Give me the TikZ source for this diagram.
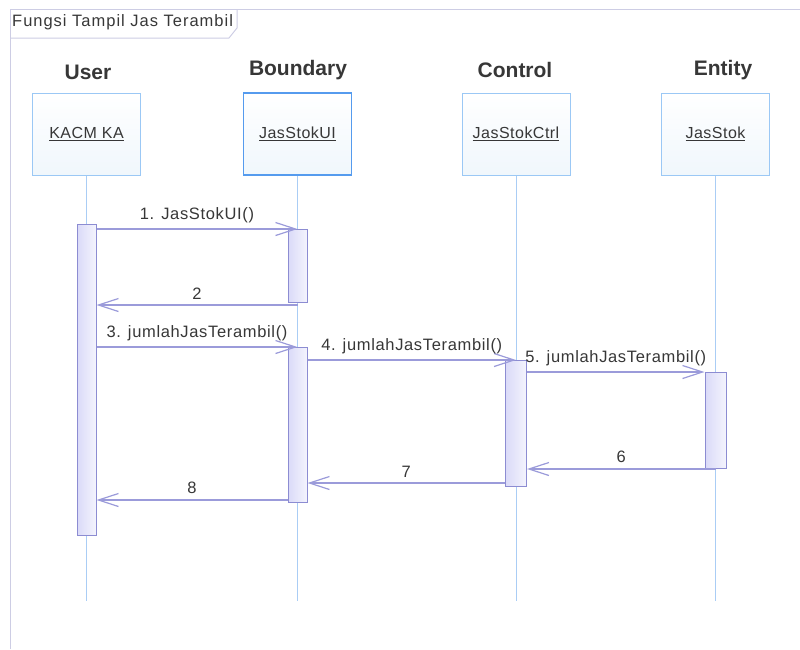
\documentclass[tikz,border=0pt]{standalone}
\usepackage{fontspec}
\setmainfont{Liberation Sans}
\usepackage{tikz}
\usetikzlibrary{arrows.meta}
\definecolor{framec}{RGB}{205,205,228}
\definecolor{lifec}{RGB}{170,205,245}
\definecolor{boxc}{RGB}{155,200,245}
\definecolor{bndc}{RGB}{85,155,238}
\definecolor{boxf}{RGB}{240,247,252}
\definecolor{actc}{RGB}{140,140,210}
\definecolor{actf}{RGB}{218,218,248}
\definecolor{msgc}{RGB}{155,155,218}
\definecolor{txtc}{RGB}{55,55,55}

\begin{document}
\begin{tikzpicture}[x=1pt,y=-1pt]
\tikzset{head/.style={font=\fontsize{21}{24}\selectfont\bfseries,text=txtc},
  obj/.style={draw=boxc,line width=1pt,top color=white,bottom color=boxf,minimum width=108pt,minimum height=82pt,text=txtc,
    font=\addfontfeature{LetterSpace=3}\fontsize{16}{18}\selectfont},
  act/.style={draw=actc,line width=1pt,left color=actf,right color=actf!30,minimum width=19pt,inner sep=0pt,anchor=north},
  life/.style={lifec,line width=1pt},
  msg/.style={msgc,line width=1.2pt,-{Straight Barb[length=20pt,width=13pt,line width=1.2pt]}},
  lab/.style={text=txtc,above=2pt,font=\addfontfeature{LetterSpace=4}\fontsize{16.5}{18}\selectfont}}
\useasboundingbox (0,0) rectangle (800,649);

% frame and title
\draw[framec,line width=1pt] (10,649) -- (10,9) -- (800,9);
\draw[framec,line width=1pt] (10,38) -- (229,38) -- (237,28) -- (237,9);
\node[anchor=west,inner sep=1pt,text=txtc,font=\addfontfeature{LetterSpace=6}\fontsize{16.5}{18}\selectfont] (title) at (11,22) {Fungsi Tampil Jas Terambil};

% lifelines
\node[head] (huser) at (88,72) {User};
\node[head] (hbnd) at (298,70) {Boundary};
\node[head] (hctrl) at (515,70) {Control};
\node[head] (hent) at (723,70) {Entity};
\node[obj] (user) at (86.5,134) {\underline{KACM KA}};
\node[obj,draw=bndc,line width=1.5pt] (bnd) at (297.5,134) {\underline{JasStokUI}};
\node[obj] (ctrl) at (516,134) {\underline{JasStokCtrl}};
\node[obj] (ent) at (715.5,134) {\underline{JasStok}};
\foreach \o in {user,bnd,ctrl,ent}
  \draw[life] (\o.south) -- ++(0,425);

% activations
\node[act,minimum height=311pt] (ua) at (86.5,224) {};
\node[act,minimum height=73pt] (b1) at (297.5,229) {};
\node[act,minimum height=155pt] (b2) at (297.5,347) {};
\node[act,minimum height=126pt,minimum width=21pt] (c1) at (516,360) {};
\node[act,minimum height=96pt,minimum width=21pt] (e1) at (715.5,372) {};

% messages
\coordinate (m2) at (297.5,305);
\coordinate (m6) at (715.5,469);
\coordinate (m7) at (c1.west |- 0,483);
\coordinate (m8) at (b2.west |- 0,500);
\draw[msg] (ua.east |- b1.north) -- (b1.north) node[lab,midway] {1. JasStokUI()};
\draw[msg] (m2) -- (m2 -| ua.east) node[lab,midway] {2};
\draw[msg] (ua.east |- b2.north) -- (b2.north) node[lab,midway] {3. jumlahJasTerambil()};
\draw[msg] (b2.east |- c1.north) -- (c1.north) node[lab,midway] {4. jumlahJasTerambil()};
\draw[msg] (c1.east |- e1.north) -- (e1.north west) node[lab,midway] {5. jumlahJasTerambil()};
\draw[msg] (m6) -- (m6 -| c1.east) node[lab,midway] {6};
\draw[msg] (m7) -- (m7 -| b2.east) node[lab,midway] {7};
\draw[msg] (m8) -- (m8 -| ua.east) node[lab,midway] {8};

\end{tikzpicture}
\end{document}
